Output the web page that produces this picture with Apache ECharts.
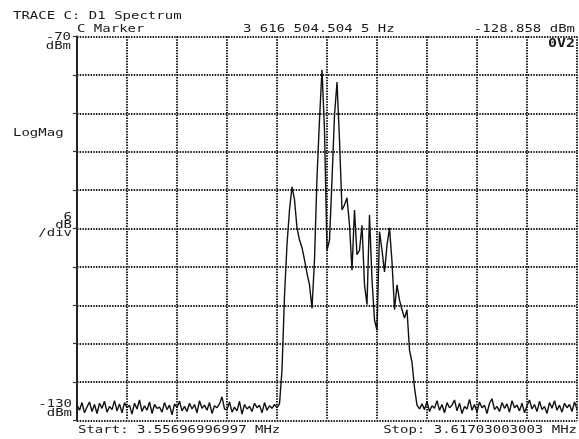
<!DOCTYPE html>
<html>
<head>
<meta charset="utf-8">
<script src="https://cdn.jsdelivr.net/npm/echarts@6/dist/echarts.min.js"></script>
<style>
html,body{margin:0;padding:0;background:#fff;}
#chart{width:579px;height:439px;}
</style>
</head>
<body>
<div id="chart"></div>
<script>
// Frequency span (kHz from start) and reference level axis
const startLabel = 'Start: 3.55696996997 MHz';
const stopLabel = 'Stop: 3.61703003003 MHz';
const spanKHz = 60.06006;
const yMin = -130, yMax = -70, yStep = 6;

// Trace levels (dBm), 201 points evenly spaced across the span
const noiseLeft = [
-127.6,-128.4,-127.2,-128.8,-127.9,-127.1,-128.6,-127.5,-128.9,-127.3,
-128.1,-127.0,-128.7,-127.8,-128.3,-126.9,-128.5,-127.4,-128.8,-127.2,
-128.0,-127.6,-129.0,-127.3,-128.2,-126.8,-128.6,-127.7,-128.4,-127.1,
-128.9,-127.5,-128.1,-127.9,-128.7,-127.2,-128.3,-127.6,-129.1,-127.4,
-128.0,-127.0,-128.5,-127.8,-128.6,-127.3,-128.2,-127.5,-128.8,-126.9,
-128.1,-127.6,-128.4,-127.2,-128.9,-127.7,-128.0,-127.4,-126.3,-128.2,
-128.3,-127.1,-128.7,-127.9,-128.5,-127.0,-129.0,-127.5,-128.2,-127.8,
-128.6,-127.3,-128.0,-127.6,-128.8,-127.2,-128.4,-127.7,-128.1,-127.5,
-128.0
];
const signal = [
-127.4,-122.1,-110.5,-102.5,-97.1,-93.5,-95.5,-99.9,-101.8,-103.0,
-104.9,-107.0,-108.8,-112.5,-104.9,-92.0,-83.0,-75.2,-84.6,-103.4,
-101.8,-92.4,-82.3,-77.1,-86.2,-97.1,-96.3,-95.2,-99.5,-106.5,
-97.1,-104.1,-103.4,-99.5,-108.8,-111.9,-97.9,-108.0,-114.3,-115.9,
-100.5,-103.4,-106.8,-102.6,-99.9,-105.2,-112.7,-108.8,-111.2,-112.7,
-114.0,-112.7,-119.0,-120.9,-124.9,-127.6,-128.2
];
const noiseRight = [
-127.4,-128.3,-127.0,-128.6,-127.7,-128.1,-126.9,-128.4,-127.5,-128.8,
-127.2,-128.0,-127.6,-126.8,-128.5,-127.3,-128.9,-127.8,-128.2,-126.7,
-128.4,-127.5,-128.7,-127.1,-128.0,-127.6,-128.9,-127.3,-126.6,-128.3,
-127.8,-128.6,-127.2,-128.1,-127.4,-128.7,-126.9,-128.0,-127.6,-128.5,
-127.3,-128.8,-127.7,-126.8,-128.2,-127.5,-128.6,-127.0,-128.3,-127.8,
-128.9,-127.2,-128.1,-126.9,-128.4,-127.6,-128.7,-127.3,-128.0,-127.5,
-128.6,-127.1,-128.2
];

const levels = noiseLeft.concat(signal, noiseRight);
const traceData = levels.map((v, i) => [+(i * spanKHz / (levels.length - 1)).toFixed(5), v]);

const FONT = '14px "DejaVu Sans Mono"';
function txt(x, y, text, align, font) {
  return {
    type: 'text', x: x, y: y, scaleY: 0.8, z: 100,
    style: { text: text, font: font || FONT, fill: '#1a1a1a', align: align || 'left', verticalAlign: 'middle' }
  };
}

const gridStyle = { color: '#222', width: 2, type: [1.5, 1.2] };

const chart = echarts.init(document.getElementById('chart'), null, { renderer: 'canvas' });
chart.setOption({
  animation: false,
  backgroundColor: '#ffffff',
  grid: { left: 77, right: 2, top: 36.5, bottom: 18.5, containLabel: false },
  xAxis: {
    type: 'value', min: 0, max: spanKHz, interval: spanKHz / 10,
    axisLabel: { show: false }, axisTick: { show: false },
    axisLine: { show: false },
    splitLine: { show: true, showMinLine: true, showMaxLine: true, lineStyle: gridStyle }
  },
  yAxis: {
    type: 'value', min: yMin, max: yMax, interval: yStep,
    axisLabel: { show: false },
    axisTick: { show: true, inside: false, length: 4, lineStyle: { color: '#333', width: 1.2 } },
    axisLine: { show: true, lineStyle: { color: '#222', width: 2 } },
    splitLine: { show: true, showMinLine: true, showMaxLine: true, lineStyle: gridStyle }
  },
  series: [{
    type: 'line', data: traceData, showSymbol: false, symbol: 'none',
    lineStyle: { color: '#111', width: 1.4 }, clip: true, z: 5
  }],
  graphic: [
    txt(13, 16, 'TRACE C: D1 Spectrum'),
    txt(77, 29.5, 'C Marker'),
    txt(243, 29.5, '3 616 504.504 5 Hz'),
    txt(575, 29.5, '-128.858 dBm', 'right'),
    txt(575, 44, '0V2', 'right', 'bold 15px "DejaVu Sans Mono"'),
    txt(71, 37, '-70', 'right'),
    txt(71, 46.5, 'dBm', 'right'),
    txt(13, 133, 'LogMag'),
    txt(72, 217, '6', 'right'),
    txt(72, 225, 'dB', 'right'),
    txt(72, 233, '/div', 'right'),
    txt(72, 404, '-130', 'right'),
    txt(72, 413, 'dBm', 'right'),
    txt(78, 430, startLabel),
    txt(577, 430, stopLabel, 'right')
  ]
});
</script>
</body>
</html>
